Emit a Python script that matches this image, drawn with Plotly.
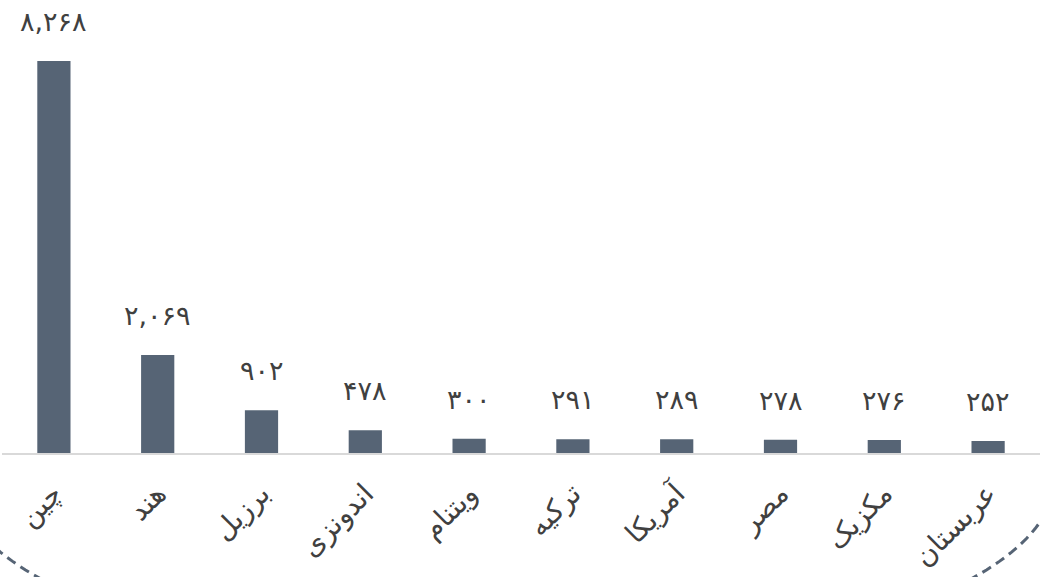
import plotly.graph_objects as go
import numpy as np

# countries and values
countries = ["چین", "هند", "برزیل", "اندونزی", "ویتنام", "ترکیه", "آمریکا", "مصر", "مکزیک", "عربستان"]
values = [8268, 2069, 902, 478, 300, 291, 289, 278, 276, 252]

bar_color = "#566475"
text_color = "#404040"
font_name = "DejaVu Sans"

W, H = 1040, 577
ml, mr, mt, mb = 2, 0, 0, 124
plot_w = W - ml - mr
plot_h = H - mt - mb


def to_fa(n):
    # latin digits -> persian digits, keep the comma
    return "{:,}".format(n).translate(str.maketrans("0123456789", "۰۱۲۳۴۵۶۷۸۹"))


def px_to_paper(px, py):
    return (px - ml) / plot_w, (H - mb - py) / plot_h


fig = go.Figure()

fig.add_trace(go.Bar(
    x=countries,
    y=values,
    marker={"color": bar_color, "line": {"width": 0}},
    hoverinfo="skip",
))

# value labels above the bars
for c, v in zip(countries, values):
    fig.add_annotation(
        x=c, y=v,
        text=to_fa(v),
        showarrow=False,
        yanchor="bottom",
        yshift=22,
        font={"family": font_name, "size": 27, "color": text_color},
    )

# decorative dashed arc at the bottom (lower half of an ellipse, pixel space)
cx, cy, a, b = 506, 480, 548, 187
t = np.linspace(0, np.pi, 120)
ex = cx + a * np.cos(t)
ey = cy + b * np.sin(t)
pts = [px_to_paper(x, y) for x, y in zip(ex, ey)]
path = "M " + " L ".join("{:.5f},{:.5f}".format(x, y) for x, y in pts)
fig.add_shape(
    type="path", path=path,
    xref="paper", yref="paper",
    line={"color": bar_color, "width": 3, "dash": "10px,6px"},
    layer="above",
)

fig.update_layout(
    width=W, height=H,
    margin={"l": ml, "r": mr, "t": mt, "b": mb},
    paper_bgcolor="white",
    plot_bgcolor="white",
    bargap=0.68,
    showlegend=False,
    font={"family": font_name, "color": text_color},
    xaxis={
        "showgrid": False,
        "showline": True,
        "linecolor": "#d9d9d9",
        "linewidth": 2,
        "ticks": "",
        "tickangle": -45,
        "tickfont": {"family": font_name, "size": 28, "color": text_color},
        "ticklabelstandoff": 11,
        "automargin": False,
        "fixedrange": True,
    },
    yaxis={
        "visible": False,
        "range": [0, 8268 * plot_h / 392],
        "showgrid": False,
        "zeroline": False,
        "automargin": False,
        "fixedrange": True,
    },
)

fig.write_html(
    "out.html",
    config={"displayModeBar": False},
    post_script="document.body.style.margin='0';document.body.style.overflow='hidden';",
)
